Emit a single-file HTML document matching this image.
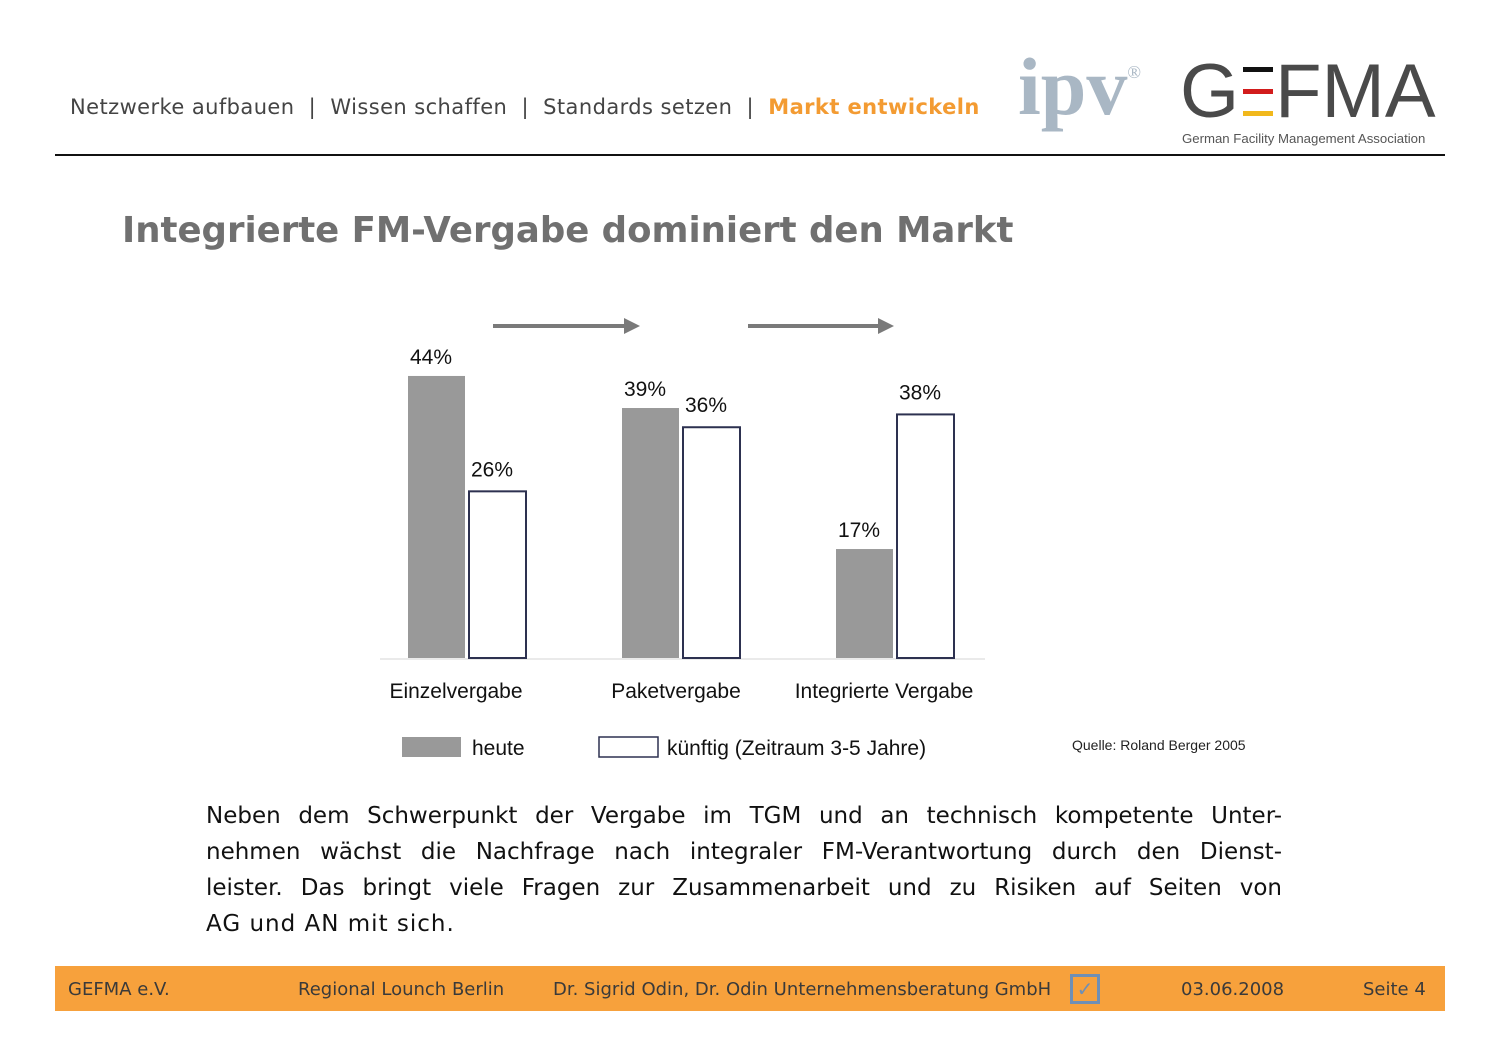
<!DOCTYPE html>
<html><head><meta charset="utf-8"><style>
body{margin:0;width:1500px;height:1060px;background:#fff;position:relative;overflow:hidden;font-family:"DejaVu Sans","Liberation Sans",sans-serif}
.a{position:absolute;white-space:nowrap}
.ln{display:block;text-align:justify;text-align-last:justify;height:36px}
.ln.last{text-align-last:left;letter-spacing:1px}
</style></head><body>
<div class="a" style="left:70px;top:95px;font-size:21px;color:#444;letter-spacing:0.42px">Netzwerke aufbauen &nbsp;| &nbsp;Wissen schaffen &nbsp;| &nbsp;Standards setzen &nbsp;| &nbsp;<b style="color:#f39b32">Markt entwickeln</b></div>
<div class="a" style="left:1018px;top:40px;font-family:'Liberation Serif',serif;font-weight:bold;font-size:82px;color:#a9b7c4">ipv<span style="font-size:18px;vertical-align:top;position:relative;top:22px;font-weight:normal">®</span></div>
<div class="a" style="left:1180px;top:48px;font-family:'Liberation Sans',sans-serif;font-size:76px;color:#4a4a4a;letter-spacing:0px">G<span style="display:inline-block;width:36px;height:56px;position:relative;vertical-align:-2px"><i style="position:absolute;left:4px;top:4px;width:30px;height:5px;background:#111"></i><i style="position:absolute;left:4px;top:26px;width:30px;height:5px;background:#d21c1c"></i><i style="position:absolute;left:4px;top:48px;width:30px;height:5px;background:#f1b81c"></i></span>FMA</div>
<div class="a" style="left:1182px;top:131px;font-family:'Liberation Sans',sans-serif;font-size:13.2px;color:#555">German Facility Management Association</div>
<div class="a" style="left:55px;top:154px;width:1390px;height:2px;background:#111"></div>
<div class="a" style="left:122px;top:210px;font-size:35.5px;font-weight:bold;color:#707070">Integrierte FM-Vergabe dominiert den Markt</div>
<svg class="a" style="left:0;top:0" width="1500" height="800" id="chart"></svg>
<div class="a" style="left:1072px;top:737px;font-family:'Liberation Sans',sans-serif;font-size:14px;color:#222">Quelle: Roland Berger 2005</div>
<div class="a" style="left:206px;top:798px;width:1076px;font-size:23px;line-height:36px;color:#111;white-space:normal">
<span class="ln">Neben dem Schwerpunkt der Vergabe im TGM und an technisch kompetente Unter-</span>
<span class="ln">nehmen wächst die Nachfrage nach integraler FM-Verantwortung durch den Dienst-</span>
<span class="ln">leister. Das bringt viele Fragen zur Zusammenarbeit und zu Risiken auf Seiten von</span>
<span class="ln last">AG und AN mit sich.</span></div>
<div class="a" style="left:55px;top:966px;width:1390px;height:45px;background:#f7a13c;font-size:18px;color:#3a3a3a">
<span class="a" style="left:13px;top:13px">GEFMA e.V.</span>
<span class="a" style="left:243px;top:13px">Regional Lounch Berlin</span>
<span class="a" style="left:498px;top:13px">Dr. Sigrid Odin, Dr. Odin Unternehmensberatung GmbH</span>
<span class="a" style="left:1015px;top:8px;width:24px;height:24px;border:3px solid #6f8fb5;color:#6f8fb5;font-size:20px;line-height:24px;text-align:center">✓</span>
<span class="a" style="left:1126px;top:13px">03.06.2008</span>
<span class="a" style="left:1308px;top:13px">Seite 4</span>
</div>
<script>
const categories=["Einzelvergabe","Paketvergabe","Integrierte Vergabe"];
const heute=[44,39,17];
const kuenftig=[26,36,38];
const svg=document.getElementById('chart');
const NS='http://www.w3.org/2000/svg';
const base=658, ppu=6.41, x0=408, step=214;
function y(v){return base-v*ppu;}
function gx(i){return x0+i*step;}
function mk(t,a,txt){const e=document.createElementNS(NS,t);for(const k in a)e.setAttribute(k,a[k]);if(txt!==undefined)e.textContent=txt;svg.appendChild(e);return e;}
let e=mk('line',{x1:380,x2:985,y1:base+1,y2:base+1,stroke:'#e4e4e4','stroke-width':1.5});

[[493,640],[748,894]].forEach(([a,b])=>{
 let l=mk('line',{x1:a,x2:b-12,y1:326,y2:326,stroke:'#7a7a7a','stroke-width':4});
 
 let p=mk('polygon',{points:`${b-16},318 ${b},326 ${b-16},334`,fill:'#7a7a7a'});
 
});
const lblOff=[48,50,40];
categories.forEach((c,i)=>{
 const x=gx(i);
 let r=mk('rect',{x:x,y:y(heute[i]),width:57,height:heute[i]*ppu,fill:'#999'});
 
 let r2=mk('rect',{x:x+61,y:y(kuenftig[i]),width:57,height:kuenftig[i]*ppu,fill:'#fff',stroke:'#2d3150','stroke-width':2});
 
 let t=mk('text',{x:x+23,y:y(heute[i])-12,'text-anchor':'middle','font-family':'Liberation Sans,sans-serif','font-size':21,fill:'#111'},heute[i]+'%');
 
 let t2=mk('text',{x:x+84,y:y(kuenftig[i])-15,'text-anchor':'middle','font-family':'Liberation Sans,sans-serif','font-size':21,fill:'#111'},kuenftig[i]+'%');
 
 let ct=mk('text',{x:x+lblOff[i]+i*4,y:698,'text-anchor':'middle','font-family':'Liberation Sans,sans-serif','font-size':21,fill:'#111'},c);
 
});
let l1=mk('rect',{x:402,y:737,width:59,height:20,fill:'#999'});

let lt=mk('text',{x:472,y:755,'font-family':'Liberation Sans,sans-serif','font-size':21,fill:'#111'},'heute');

let l2=mk('rect',{x:599,y:737,width:59,height:20,fill:'#fff',stroke:'#2d3150','stroke-width':1.5});

let lt2=mk('text',{x:667,y:755,'font-family':'Liberation Sans,sans-serif','font-size':21,fill:'#111'},'künftig (Zeitraum 3-5 Jahre)');

</script>
</body></html>
